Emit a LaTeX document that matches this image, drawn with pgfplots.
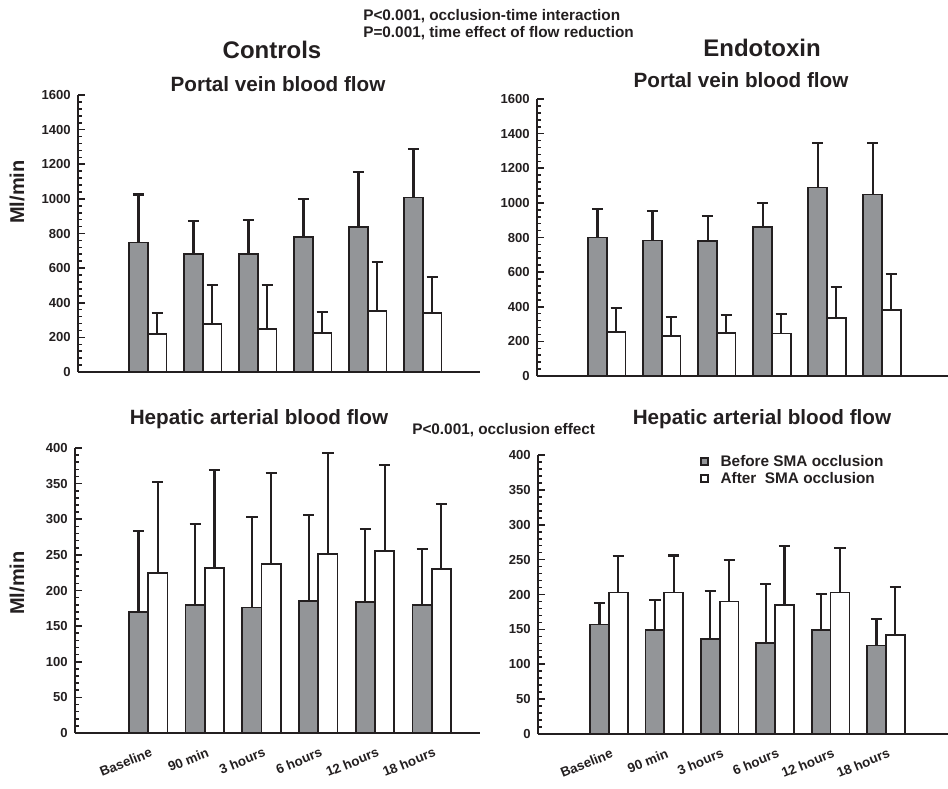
\documentclass[border=0pt]{standalone}
\usepackage{pgfplots}
\pgfplotsset{compat=1.18}
\usepackage{pgfplotstable}
\usepackage{fontspec}
\setmainfont{Liberation Sans}
\definecolor{dk}{HTML}{231F20}
\definecolor{barg}{HTML}{939598}

\pgfplotstableread{
x g ge w we
0 748 277 220 119
1 682 189 276 225
2 682 195 249 252
3 781 219 224 123
4 838 319 353 281
5 1008 280 341 206
}\tlA
\pgfplotstableread{
x g ge w we
0 800 166 256 139
1 783 169 233 106
2 781 142 247 104
3 862 136 245 112
4 1089 258 337 176
5 1049 298 382 208
}\trA
\pgfplotstableread{
x g ge w we
0 170 114 225 127
1 180 113 232 137
2 176 127 237 128
3 185 121 251 142
4 184 102 255 121
5 180 78 230 91
}\blA
\pgfplotstableread{
x g ge w we
0 157 31 203 52
1 149 43 203 53
2 136 69 190 59
3 131 84 185 85
4 149 52 203 64
5 127 38 142 69
}\brA

\pgfplotsset{
  panel/.style={
    scale only axis, anchor=south west,
    axis x line=bottom, axis y line=left,
    axis line style={-, line width=1.7pt, color=dk},
    ybar, bar width=0.34,
    ymin=0, enlargelimits=false, clip=false,
    xtick={0,...,5}, xtick style={draw=none},
    ytick style={line width=1.2pt, color=dk},
    tick align=inside, major tick length=5pt, minor tick length=3pt,
    minor y tick num=4,
    /pgf/number format/assume math mode=true,
    /pgf/number format/1000 sep={},
    yticklabel style={font=\bfseries\fontsize{9.8}{10}\selectfont, color=dk, xshift=-2pt},
    xticklabel style={font=\bfseries\fontsize{10}{11}\selectfont, color=dk, rotate=22, anchor=north east, yshift=-9pt, xshift=-2pt, inner sep=1pt},
  },
  gbar/.style={fill=barg, draw=dk, line width=1.3pt, bar shift=-0.17,
    error bars/.cd, y dir=plus, y explicit,
    error bar style={line width=1.6pt, color=dk},
    error mark options={rotate=90, line width=1.6pt, mark size=4.2pt, color=dk}},
  wbar/.style={fill=white, draw=dk, line width=1.3pt, bar shift=0.17,
    error bars/.cd, y dir=plus, y explicit,
    error bar style={line width=1.6pt, color=dk},
    error mark options={rotate=90, line width=1.6pt, mark size=4.2pt, color=dk}},
}

\begin{document}
\begin{tikzpicture}
\useasboundingbox (0pt,0pt) rectangle (711pt,-591pt);

% top-left
\begin{axis}[panel, at={(58.5pt,-279pt)}, width=301.5pt, height=207.75pt,
  xmin=-1.27, xmax=6.04, ymax=1600, ytick={0,200,...,1600}, xticklabels={}]
\addplot[gbar] table[x=x, y=g, y error=ge] {\tlA};
\addplot[wbar] table[x=x, y=w, y error=we] {\tlA};
\end{axis}

% top-right
\begin{axis}[panel, at={(402.75pt,-282pt)}, width=308.25pt, height=207.75pt,
  xmin=-1.27, xmax=6.2, ymax=1600, ytick={0,200,...,1600}, xticklabels={}]
\addplot[gbar] table[x=x, y=g, y error=ge] {\trA};
\addplot[wbar] table[x=x, y=w, y error=we] {\trA};
\end{axis}

% bottom-left
\begin{axis}[panel, at={(56.25pt,-549.75pt)}, width=303.75pt, height=213.75pt,
  xmin=-1.29, xmax=5.85, ymax=400, ytick={0,50,...,400},
  xticklabels={Baseline,90 min,3 hours,6 hours,12 hours,18 hours}]
\addplot[gbar] table[x=x, y=g, y error=ge] {\blA};
\addplot[wbar] table[x=x, y=w, y error=we] {\blA};
\end{axis}

% bottom-right
\begin{axis}[panel, at={(403.5pt,-550.5pt)}, width=307.5pt, height=209.25pt,
  xmin=-1.28, xmax=6.12, ymax=400, ytick={0,50,...,400},
  xticklabels={Baseline,90 min,3 hours,6 hours,12 hours,18 hours},
  legend style={at={(0.385,1.02)}, anchor=north west, draw=none, fill=none,
    font=\bfseries\fontsize{11.5}{13}\selectfont, text=dk, row sep=-1pt,
    /tikz/every odd column/.append style={column sep=7pt}},
  legend cell align=left,
  legend image code/.code={\draw[#1, line width=1.2pt, draw=dk] (0pt,-2.6pt) rectangle (5.2pt,2.6pt);}]
\addplot[gbar] table[x=x, y=g, y error=ge] {\brA};
\addplot[wbar] table[x=x, y=w, y error=we] {\brA};
\legend{Before SMA occlusion, After\ \ SMA occlusion}
\end{axis}

% texts
\begin{scope}[every node/.style={text=dk, inner sep=0pt}]
\node[anchor=west, font=\bfseries\fontsize{11.5}{13}\selectfont] at (272.25pt,-12pt) {P<0.001, occlusion-time interaction};
\node[anchor=west, font=\bfseries\fontsize{11.5}{13}\selectfont] at (272.25pt,-24.75pt) {P=0.001, time effect of flow reduction};
\node[font=\bfseries\fontsize{18}{20}\selectfont] at (204pt,-37.5pt) {Controls};
\node[font=\bfseries\fontsize{18}{20}\selectfont] at (571.5pt,-36pt) {Endotoxin};
\node[font=\bfseries\fontsize{15.5}{17}\selectfont] at (208.5pt,-63pt) {Portal vein blood flow};
\node[font=\bfseries\fontsize{15.5}{17}\selectfont] at (555.75pt,-60pt) {Portal vein blood flow};
\node[font=\bfseries\fontsize{15.5}{17}\selectfont] at (194.25pt,-314.25pt) {Hepatic arterial blood flow};
\node[font=\bfseries\fontsize{15.5}{17}\selectfont] at (571.5pt,-314.25pt) {Hepatic arterial blood flow};
\node[anchor=west, font=\bfseries\fontsize{11.5}{13}\selectfont] at (309pt,-322.5pt) {P<0.001, occlusion effect};
\node[rotate=90, font=\bfseries\fontsize{15}{17}\selectfont] at (12.75pt,-144pt) {Ml/min};
\node[rotate=90, font=\bfseries\fontsize{15}{17}\selectfont] at (12.75pt,-437.25pt) {Ml/min};
\end{scope}
\end{tikzpicture}
\end{document}
